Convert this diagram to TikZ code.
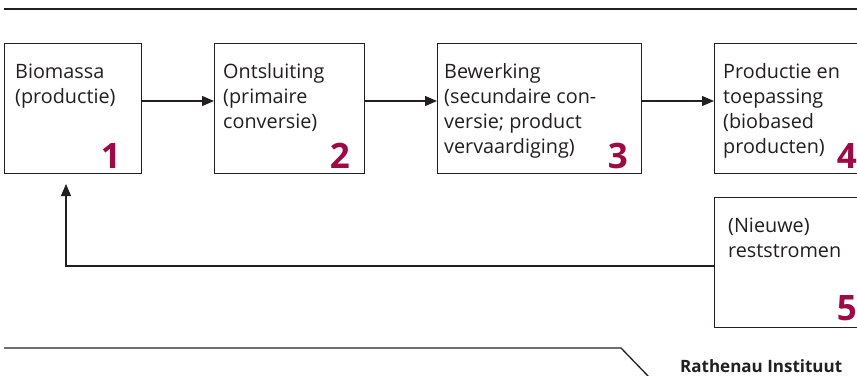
\documentclass[tikz,border=0pt]{standalone}
\usepackage{fontspec}
\setmainfont{Open Sans}
\usetikzlibrary{arrows.meta}
\definecolor{ink}{HTML}{231F20}
\definecolor{crim}{HTML}{9E0A45}
\tikzset{
  box/.style={draw=ink, line width=1.2pt, anchor=north west, inner sep=0pt},
  txt/.style={anchor=base west, inner sep=0pt, font=\fontsize{19.8}{25}\selectfont, text=ink},
  num/.style={anchor=base east, inner sep=0pt, font=\fontsize{35}{40}\selectfont\bfseries, text=crim},
  link/.style={draw=ink, line width=1.2pt, -{Triangle[length=12pt,width=10pt]}},
  rule/.style={draw=ink, line width=1.3pt},
}
\begin{document}
\begin{tikzpicture}[x=1pt,y=-1pt]
\clip (0,0) rectangle (857,375);
\fill[white] (0,0) rectangle (857,375);
% boxes
\node[box, minimum width=137pt, minimum height=130pt] (b1) at (4,43) {};
\node[box, minimum width=150pt, minimum height=130pt] (b2) at (214,43) {};
\node[box, minimum width=204pt, minimum height=130pt] (b3) at (437,43) {};
\node[box, minimum width=160pt, minimum height=130pt] (b4) at (714,43) {};
\node[box, minimum width=160pt, minimum height=130pt] (b5) at (714,197) {};
% texts
\node[txt] (t1a) at (15,78) {Biomassa};
\node[txt] (t1b) at (15,103) {(productie)};
\node[txt] (t2a) at (223,78) {Ontsluiting};
\node[txt] (t2b) at (223,103) {(primaire};
\node[txt] (t2c) at (223,128) {conversie)};
\node[txt] (t3a) at (444,78) {Bewerking};
\node[txt] (t3b) at (444,103) {(secundaire con-};
\node[txt] (t3c) at (444,128) {versie; product};
\node[txt] (t3d) at (444,153) {vervaardiging)};
\node[txt] (t4a) at (723,78) {Productie en};
\node[txt] (t4b) at (723,103) {toepassing};
\node[txt] (t4c) at (723,128) {(biobased};
\node[txt] (t4d) at (723,153) {producten)};
\node[txt] (t5a) at (728,232) {(Nieuwe)};
\node[txt] (t5b) at (728,257) {reststromen};
% numbers
\node[num] (n1) at (121,168) {1};
\node[num] (n2) at (350,168) {2};
\node[num] (n3) at (628,168) {3};
\node[num] (n4) at (857,168) {4};
\node[num] (n5) at (857,320) {5};
% arrows
\draw[link] (b1.east |- 0,101) -- (b2.west |- 0,101);
\draw[link] (b2.east |- 0,101) -- (b3.west |- 0,101);
\draw[link] (b3.east |- 0,101) -- (b4.west |- 0,101);
\coordinate (fb) at (66,266);
\coordinate (fbtip) at (66,184);
\draw[link] (b5.west |- fb) -- (fb) -- (fbtip);
% rules
\coordinate (r1) at (4,9);
\coordinate (r2) at (857,9);
\draw[rule] (r1) -- (r2);
\coordinate (r3) at (4,348);
\coordinate (r4) at (621,348);
\coordinate (r5) at (649,377);
\draw[rule] (r3) -- (r4) -- (r5);
\node[anchor=base west, inner sep=0pt, font=\fontsize{17}{20}\selectfont\bfseries, text=ink] (logo) at (680,372) {Rathenau Instituut};
\end{tikzpicture}
\end{document}
